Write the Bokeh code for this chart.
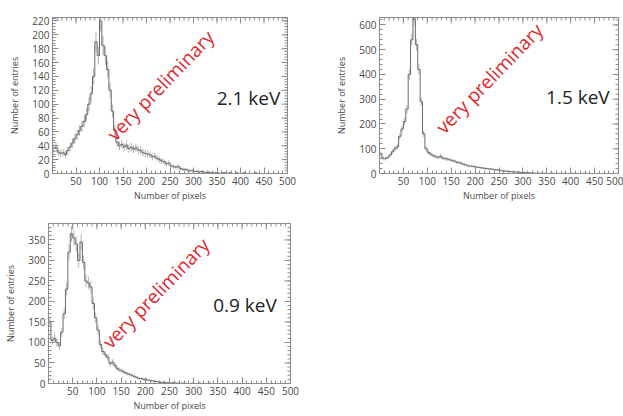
import math
from bokeh.plotting import figure
from bokeh.layouts import column, row
from bokeh.models import Label, FixedTicker, SingleIntervalTicker, Range1d
from bokeh.embed import file_html
from bokeh.resources import INLINE

# ---------------- data ----------------
bin_left = list(range(0, 500, 5))
bin_width = 5

counts_21 = [36, 38, 31, 29, 30, 27, 33, 38, 44, 50,
             56, 62, 68, 75, 85, 100, 115, 140, 190, 170,
             220, 185, 170, 150, 120, 90, 62, 45, 40, 42,
             38, 41, 36, 38, 35, 37, 34, 33, 30, 29,
             28, 27, 24, 25, 22, 20, 18, 17, 14, 15,
             11, 10, 9, 10, 7, 6, 6, 5, 4, 4,
             3, 3, 2, 3, 2, 1, 2, 1, 1, 1,
             1, 0, 1, 1, 0, 1, 0, 0, 1, 0,
             0, 1, 0, 0, 0, 0, 1, 0, 0, 0,
             0, 0, 0, 0, 0, 0, 0, 0, 0, 0]

counts_15 = [80, 62, 60, 65, 75, 88, 100, 108, 150, 180,
             210, 260, 400, 540, 625, 520, 420, 290, 160, 100,
             85, 78, 72, 68, 65, 70, 62, 60, 58, 55,
             52, 50, 45, 44, 40, 36, 33, 30, 30, 28,
             26, 25, 23, 22, 20, 19, 18, 17, 15, 14,
             12, 11, 10, 9, 8, 7, 6, 6, 5, 4,
             4, 3, 3, 2, 2, 1, 2, 1, 1, 1,
             0, 1, 1, 0, 1, 0, 0, 1, 0, 0,
             1, 0, 0, 0, 0, 1, 0, 0, 0, 0,
             0, 0, 0, 0, 0, 0, 0, 0, 0, 0]

counts_09 = [150, 105, 110, 100, 92, 125, 170, 230, 320, 365,
             355, 340, 300, 345, 295, 250, 245, 235, 195, 160,
             130, 95, 78, 70, 64, 48, 52, 44, 36, 33,
             30, 27, 24, 22, 20, 17, 15, 12, 12, 10,
             9, 8, 7, 6, 5, 4, 3, 3, 2, 2,
             1, 2, 1, 1, 0, 1, 1, 0, 0, 1,
             0, 0, 1, 0, 0, 0, 1, 0, 0, 0,
             0, 0, 0, 0, 0, 0, 0, 0, 0, 0,
             0, 0, 0, 0, 0, 0, 0, 0, 0, 0,
             0, 0, 0, 0, 0, 0, 0, 0, 0, 0]

x_ticks = [50, 100, 150, 200, 250, 300, 350, 400, 450, 500]
x_minor_ticks = list(range(0, 501, 10))

energy_labels = ["2.1 keV", "1.5 keV", "0.9 keV"]
prelim_text = "very preliminary"

# ---------------- styling ----------------
LINE = "#6a6a6a"
ERR = "#909090"
FRAME = "#8c8c8c"
TXT = "#4a4a4a"
FONT = "Open Sans"


def style_axis(ax, ticker):
    ax.ticker = ticker
    ax.axis_line_color = FRAME
    ax.major_tick_line_color = FRAME
    ax.minor_tick_line_color = FRAME
    ax.major_tick_in = 6
    ax.major_tick_out = 0
    ax.minor_tick_in = 3
    ax.minor_tick_out = 0
    ax.major_label_text_font = FONT
    ax.major_label_text_color = TXT
    ax.major_label_text_font_size = "10px"
    ax.major_label_standoff = 3
    ax.axis_label_text_font = FONT
    ax.axis_label_text_font_size = "9px"
    ax.axis_label_text_color = TXT
    ax.axis_label_text_font_style = "normal"


def make_panel(counts, ymax, yint, elabel, epos, ppos, width, height, bl, br, bt, bb):
    p = figure(width=width, height=height, x_range=Range1d(0, 500), y_range=Range1d(0, ymax),
               output_backend="svg", toolbar_location=None,
               min_border_left=bl, min_border_right=br, min_border_top=bt, min_border_bottom=bb,
               background_fill_color="white", border_fill_color="white")
    p.grid.visible = False
    p.outline_line_color = FRAME
    p.outline_line_width = 1

    xt = FixedTicker(ticks=x_ticks, minor_ticks=x_minor_ticks)
    yt = SingleIntervalTicker(interval=yint, num_minor_ticks=5)
    style_axis(p.xaxis[0], xt)
    style_axis(p.yaxis[0], yt)
    p.xaxis[0].axis_label = "Number of pixels"
    p.xaxis[0].axis_label_standoff = 1
    p.yaxis[0].axis_label = "Number of entries"
    p.yaxis[0].axis_label_standoff = 8

    # ROOT-style ticks along the top and right frame edges (dash markers centred on the
    # edge; the half outside the frame is clipped away)
    y_major = [yint * k for k in range(0, int(ymax // yint) + 1)]
    y_minor = [yint / 5 * k for k in range(0, int(ymax // (yint / 5)) + 1)]
    p.scatter(x=x_ticks, y=[ymax] * len(x_ticks), marker="dash", angle=math.pi / 2,
              size=12, line_color=FRAME, line_width=1)
    p.scatter(x=x_minor_ticks, y=[ymax] * len(x_minor_ticks), marker="dash", angle=math.pi / 2,
              size=6, line_color=FRAME, line_width=1)
    p.scatter(x=[500] * len(y_major), y=y_major, marker="dash",
              size=12, line_color=FRAME, line_width=1)
    p.scatter(x=[500] * len(y_minor), y=y_minor, marker="dash",
              size=6, line_color=FRAME, line_width=1)

    centers = [b + bin_width / 2 for b in bin_left]
    lo = [c - math.sqrt(c) for c in counts]
    hi = [c + math.sqrt(c) for c in counts]
    p.segment(x0=centers, y0=lo, x1=centers, y1=hi, line_color=ERR, line_width=1, line_alpha=0.7)

    xs = bin_left + [bin_left[-1] + bin_width]
    ys = counts + [counts[-1]]
    p.step(x=xs, y=ys, mode="after", line_color=LINE, line_width=1)

    p.add_layout(Label(x=ppos[0], y=ppos[1], text=prelim_text, angle=46, angle_units="deg",
                       text_color="#e0262b", text_font=FONT, text_font_size="19px",
                       text_align="center", text_baseline="middle"))
    p.add_layout(Label(x=epos[0], y=epos[1], text=elabel,
                       text_color="#222222", text_font=FONT, text_font_size="19px",
                       text_align="center", text_baseline="middle"))
    return p


p1 = make_panel(counts_21, 225, 20, energy_labels[0], (417, 109), (230, 127),
                308, 207, 52, 21, 15, 34)
p2 = make_panel(counts_15, 630, 100, energy_labels[1], (415, 308), (230, 384),
                315, 207, 71, 5, 17, 33)
p3 = make_panel(counts_09, 390, 50, energy_labels[2], (406, 191), (222, 220),
                308, 207, 48, 18, 16, 26)

layout = column(row(p1, p2), p3)

open("out.html", "w").write(file_html(layout, INLINE))
